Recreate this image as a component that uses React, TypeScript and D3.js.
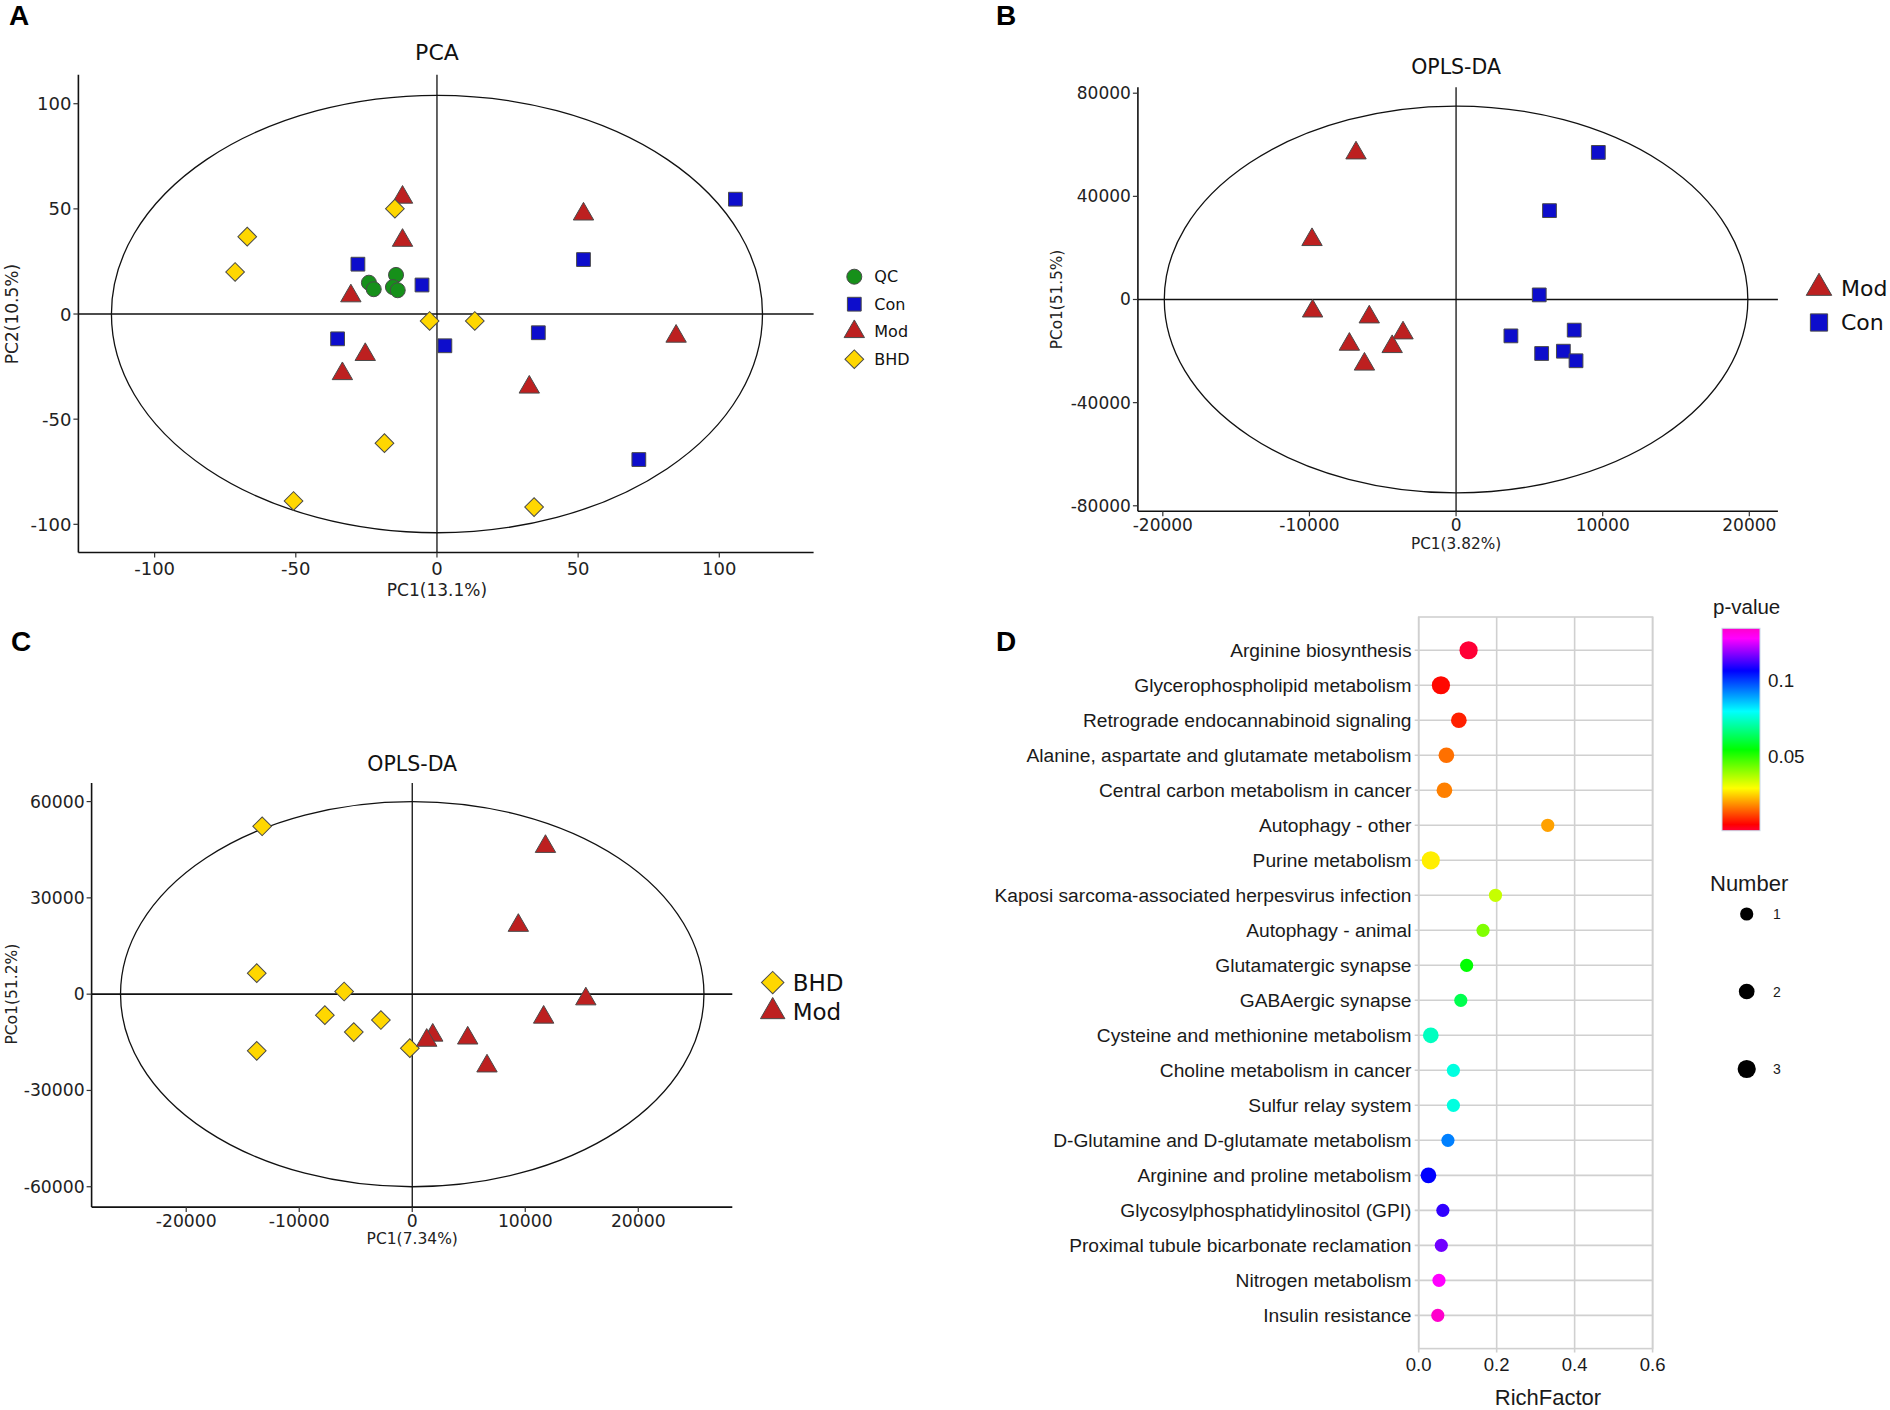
import React from "react";
import * as d3 from "d3";

const W = 1890;
const H = 1410;

// ---------- A: PCA scores ----------
const pcaQC = [[-24.1, 14.9], [-22.4, 11.8], [-14.5, 18.6], [-15.6, 12.8], [-13.9, 11.3]];
const pcaCon = [[105.7, 54.6], [51.9, 25.9], [-28.0, 23.7], [-5.3, 13.8], [-35.2, -11.8], [2.8, -15.1], [35.9, -8.9], [71.5, -69.2]];
const pcaMod = [[-12.2, 55.5], [-12.2, 35.0], [51.9, 47.5], [-30.5, 8.6], [84.7, -10.6], [-25.4, -19.3], [-33.5, -28.4], [32.7, -34.8]];
const pcaBHD = [[-67.2, 36.8], [-71.5, 20.0], [-14.9, 50.1], [-2.6, -3.3], [13.4, -3.3], [-18.6, -61.4], [-50.8, -88.9], [34.4, -91.8]];
const pcaTicks = [-100, -50, 0, 50, 100];

// ---------- B: OPLS-DA Mod vs Con ----------
const bMod = [[-6824, 56800], [-9825, 23200], [-9784, -4500], [-5920, -6800], [-3618, -13000], [-7277, -17400], [-4358, -18300], [-6249, -25100]];
const bCon = [[9702, 57040], [6372, 34460], [5673, 1782], [3741, -14110], [8058, -11883], [5838, -20944], [7318, -20053], [8181, -23766]];
const bXTicks = [-20000, -10000, 0, 10000, 20000];
const bYTicks = [-80000, -40000, 0, 40000, 80000];

// ---------- C: OPLS-DA BHD vs Mod ----------
const cBHD = [[-13280, 52295], [-13760, 6537], [-6027, 834], [-7733, -6537], [-5173, -11822], [-2773, -8067], [-13760, -17663], [-213, -16829]];
const cMod = [[11787, 46000], [9387, 21400], [15360, -1500], [11627, -7200], [1813, -12800], [1280, -14400], [4907, -13700], [6613, -22400]];
const cXTicks = [-20000, -10000, 0, 10000, 20000];
const cYTicks = [-60000, -30000, 0, 30000, 60000];

// ---------- D: KEGG enrichment ----------
const pathways = [
  "Arginine biosynthesis",
  "Glycerophospholipid metabolism",
  "Retrograde endocannabinoid signaling",
  "Alanine, aspartate and glutamate metabolism",
  "Central carbon metabolism in cancer",
  "Autophagy - other",
  "Purine metabolism",
  "Kaposi sarcoma-associated herpesvirus infection",
  "Autophagy - animal",
  "Glutamatergic synapse",
  "GABAergic synapse",
  "Cysteine and methionine metabolism",
  "Choline metabolism in cancer",
  "Sulfur relay system",
  "D-Glutamine and D-glutamate metabolism",
  "Arginine and proline metabolism",
  "Glycosylphosphatidylinositol (GPI)",
  "Proximal tubule bicarbonate reclamation",
  "Nitrogen metabolism",
  "Insulin resistance",
];
const richFactor = [0.128, 0.057, 0.103, 0.071, 0.066, 0.331, 0.031, 0.197, 0.165, 0.123, 0.108, 0.031, 0.089, 0.089, 0.075, 0.025, 0.062, 0.058, 0.052, 0.049];
const pValue = [0.0013, 0.006, 0.0083, 0.0158, 0.0173, 0.0204, 0.0277, 0.0349, 0.0419, 0.0546, 0.0624, 0.0736, 0.0768, 0.0768, 0.0932, 0.1065, 0.1105, 0.1159, 0.1278, 0.1345];
const hitNumber = [3, 3, 2, 2, 2, 1, 3, 1, 1, 1, 1, 2, 1, 1, 1, 2, 1, 1, 1, 1];
const richTicks = [0, 0.2, 0.4, 0.6];
const pLabels = [0.05, 0.1];
const numberLegend = [1, 2, 3];

const groupStyle: Record<string, { shape: string; fill: string }> = {
  QC: { shape: "circle", fill: "#16901a" },
  Con: { shape: "square", fill: "#0d0dcc" },
  Mod: { shape: "triangle", fill: "#bd2020" },
  BHD: { shape: "diamond", fill: "#ffd700" },
};

const SANS = "DejaVu Sans";
const ARIAL = "Liberation Sans, Arial";

function markerPath(shape: string, size: number) {
  const t =
    shape === "circle" ? d3.symbolCircle : shape === "triangle" ? d3.symbolTriangle : d3.symbolSquare;
  return d3.symbol().type(t).size(size)() as string;
}

const markerSize: Record<string, number> = { circle: 177, square: 190, triangle: 180, diamond: 175 };

function Marker({ x, y, group, scale = 1 }: { x: number; y: number; group: string; scale?: number }) {
  const st = groupStyle[group];
  const rot = st.shape === "diamond" ? 45 : 0;
  return (
    <path
      d={markerPath(st.shape, markerSize[st.shape] * scale * scale)}
      transform={`translate(${x},${y}) rotate(${rot})`}
      fill={st.fill}
      stroke="#4a4a4a"
      strokeWidth={1}
    />
  );
}

type Series = { name: string; pts: number[][] };

function ScatterPanel(p: {
  xRange: [number, number];
  yRange: [number, number];
  xDomain: [number, number];
  yDomain: [number, number];
  xTicks: number[];
  yTicks: number[];
  series: Series[];
  ellipse: [number, number];
  title: string;
  titleY: number;
  titleSize: number;
  xLabel: string;
  xLabelY: number;
  yLabel: string;
  yLabelX: number;
  labelSize: number;
  tickSize: number;
  xTickY: number;
  legend: { x: number; y: number; dy: number; size: number; gap: number; scale: number; names: string[] };
}) {
  const xs = d3.scaleLinear().domain(p.xDomain).range(p.xRange);
  const ys = d3.scaleLinear().domain(p.yDomain).range(p.yRange);
  const [x0, x1] = p.xRange;
  const [yb, yt] = p.yRange;
  return (
    <g fontFamily={SANS}>
      <text x={xs(0)} y={p.titleY} textAnchor="middle" dominantBaseline="central" fontSize={p.titleSize} fill="#111">
        {p.title}
      </text>
      {/* zero lines */}
      <line x1={x0} x2={x1} y1={ys(0)} y2={ys(0)} stroke="#111" strokeWidth={1.6} />
      <line x1={xs(0)} x2={xs(0)} y1={yt} y2={yb} stroke="#111" strokeWidth={1.3} />
      <ellipse
        cx={xs(0)}
        cy={ys(0)}
        rx={xs(p.ellipse[0]) - xs(0)}
        ry={ys(0) - ys(p.ellipse[1])}
        fill="none"
        stroke="#111"
        strokeWidth={1.3}
      />
      {/* axes */}
      <line x1={x0} x2={x1} y1={yb} y2={yb} stroke="#111" strokeWidth={1.6} />
      <line x1={x0} x2={x0} y1={yt} y2={yb} stroke="#111" strokeWidth={1.6} />
      {p.xTicks.map((t) => (
        <g key={"x" + t}>
          <line x1={xs(t)} x2={xs(t)} y1={yb} y2={yb + 5} stroke="#333" strokeWidth={1.2} />
          <text x={xs(t)} y={p.xTickY} textAnchor="middle" dominantBaseline="central" fontSize={p.tickSize} fill="#222">
            {t}
          </text>
        </g>
      ))}
      {p.yTicks.map((t) => (
        <g key={"y" + t}>
          <line x1={x0 - 5} x2={x0} y1={ys(t)} y2={ys(t)} stroke="#333" strokeWidth={1.2} />
          <text x={x0 - 7} y={ys(t)} textAnchor="end" dominantBaseline="central" fontSize={p.tickSize} fill="#222">
            {t}
          </text>
        </g>
      ))}
      <text x={xs(0)} y={p.xLabelY} textAnchor="middle" dominantBaseline="central" fontSize={p.labelSize} fill="#222">
        {p.xLabel}
      </text>
      <text
        transform={`translate(${p.yLabelX},${ys(0)}) rotate(-90)`}
        textAnchor="middle"
        dominantBaseline="central"
        fontSize={p.labelSize}
        fill="#222"
      >
        {p.yLabel}
      </text>
      {p.series.map((s) =>
        s.pts.map((d, i) => <Marker key={s.name + i} x={xs(d[0])} y={ys(d[1])} group={s.name} />)
      )}
      {p.legend.names.map((n, i) => (
        <g key={"lg" + n}>
          <Marker x={p.legend.x} y={p.legend.y + i * p.legend.dy} group={n} scale={p.legend.scale} />
          <text
            x={p.legend.x + p.legend.gap}
            y={p.legend.y + i * p.legend.dy}
            dominantBaseline="central"
            fontSize={p.legend.size}
            fill="#111"
          >
            {n}
          </text>
        </g>
      ))}
    </g>
  );
}

function EnrichPanel() {
  const xs = d3.scaleLinear().domain([0, 0.6]).range([1418.7, 1652.6]);
  const ys = d3.scalePoint<string>().domain(pathways).range([617, 1348.6]).padding(0.95);
  const pMin = 0.0013;
  const pMax = 0.1345;
  const stopF = [0, 0.03, 0.21, 0.4, 0.59, 0.79, 0.95, 1];
  const stopC = ["#ff0036", "#ff0000", "#ffff00", "#00ff00", "#00ffff", "#0000ff", "#ff00ff", "#ff00cc"];
  const color = d3
    .scaleLinear<string>()
    .domain(stopF.map((f) => pMin + f * (pMax - pMin)))
    .range(stopC)
    .interpolate(d3.interpolateRgb);
  const rScale = d3.scaleLinear().domain([1, 3]).range([6.6, 9.1]);
  const barTop = 628.3;
  const barBot = 830.7;
  const barY = d3.scaleLinear().domain([pMin, pMax]).range([barBot, barTop]);
  const [px0, px1] = xs.range();
  const grid = "#d0d0d0";
  return (
    <g fontFamily={ARIAL}>
      <defs>
        <linearGradient id="pgrad" x1="0" y1="1" x2="0" y2="0">
          {stopF.map((f, i) => (
            <stop key={i} offset={f} stopColor={stopC[i]} />
          ))}
        </linearGradient>
      </defs>
      {pathways.map((pw) => (
        <line key={"g" + pw} x1={px0 - 4} x2={px1} y1={ys(pw)} y2={ys(pw)} stroke={grid} strokeWidth={1.6} />
      ))}
      {richTicks.map((t) => (
        <line key={"v" + t} x1={xs(t)} x2={xs(t)} y1={617} y2={1352.6} stroke={grid} strokeWidth={1.6} />
      ))}
      <rect x={px0} y={617} width={px1 - px0} height={1348.6 - 617} fill="none" stroke={grid} strokeWidth={1.6} />
      {pathways.map((pw, i) => (
        <circle key={"c" + pw} cx={xs(richFactor[i])} cy={ys(pw)} r={rScale(hitNumber[i])} fill={color(pValue[i])} />
      ))}
      {pathways.map((pw) => (
        <text key={"t" + pw} x={1411.5} y={ys(pw)} textAnchor="end" dominantBaseline="central" fontSize={19.2} fill="#1a1a1a">
          {pw}
        </text>
      ))}
      {richTicks.map((t) => (
        <text key={"xt" + t} x={xs(t)} y={1364} textAnchor="middle" dominantBaseline="central" fontSize={18.5} fill="#1a1a1a">
          {t.toFixed(1)}
        </text>
      ))}
      <text x={1548} y={1397} textAnchor="middle" dominantBaseline="central" fontSize={22} fill="#1a1a1a">
        RichFactor
      </text>
      {/* colour legend */}
      <text x={1713} y={606.7} dominantBaseline="central" fontSize={20.5} fill="#1a1a1a">
        p-value
      </text>
      <rect x={1722} y={barTop} width={38} height={barBot - barTop} fill="url(#pgrad)" stroke="#c8d8e8" strokeWidth={1} />
      {pLabels.map((v) => (
        <text key={"pl" + v} x={1768} y={barY(v)} dominantBaseline="central" fontSize={18.8} fill="#1a1a1a">
          {v}
        </text>
      ))}
      {/* size legend */}
      <text x={1710} y={883} dominantBaseline="central" fontSize={22} fill="#1a1a1a">
        Number
      </text>
      {numberLegend.map((n, i) => (
        <g key={"n" + n}>
          <circle cx={1746.7} cy={914 + i * 77.5} r={rScale(n)} fill="#000" />
          <text x={1773} y={914 + i * 77.5} dominantBaseline="central" fontSize={14} fill="#1a1a1a">
            {n}
          </text>
        </g>
      ))}
    </g>
  );
}

export default function App() {
  const letter = { fontFamily: ARIAL, fontWeight: 700, fontSize: 28, fill: "#000" } as const;
  return (
    <svg
      width={W}
      height={H}
      viewBox={`0 0 ${W} ${H}`}
      style={{ position: "absolute", left: 0, top: 0, background: "#fff" }}
    >
      <rect width={W} height={H} fill="#fff" />
      <text x={9} y={25} {...letter}>A</text>
      <text x={996} y={25} {...letter}>B</text>
      <text x={11} y={651} {...letter}>C</text>
      <text x={996} y={651} {...letter}>D</text>

      <ScatterPanel
        xRange={[78.4, 813.6]}
        yRange={[552.5, 74.7]}
        xDomain={[-127, 133.4]}
        yDomain={[-113.4, 113.8]}
        xTicks={pcaTicks}
        yTicks={pcaTicks}
        series={[
          { name: "QC", pts: pcaQC },
          { name: "Con", pts: pcaCon },
          { name: "Mod", pts: pcaMod },
          { name: "BHD", pts: pcaBHD },
        ]}
        ellipse={[115.3, 104]}
        title="PCA"
        titleY={52}
        titleSize={22}
        xLabel="PC1(13.1%)"
        xLabelY={590}
        yLabel="PC2(10.5%)"
        yLabelX={12}
        labelSize={17}
        tickSize={18}
        xTickY={568.8}
        legend={{ x: 854.3, y: 276.7, dy: 27.5, size: 16, gap: 20, scale: 1, names: ["QC", "Con", "Mod", "BHD"] }}
      />

      <ScatterPanel
        xRange={[1137.9, 1777.9]}
        yRange={[511.3, 87.3]}
        xDomain={[-21700, 21950]}
        yDomain={[-82140, 82290]}
        xTicks={bXTicks}
        yTicks={bYTicks}
        series={[
          { name: "Mod", pts: bMod },
          { name: "Con", pts: bCon },
        ]}
        ellipse={[19900, 75000]}
        title="OPLS-DA"
        titleY={67}
        titleSize={20.5}
        xLabel="PC1(3.82%)"
        xLabelY={544}
        yLabel="PCo1(51.5%)"
        yLabelX={1056.5}
        labelSize={15.3}
        tickSize={17}
        xTickY={524.7}
        legend={{ x: 1819, y: 288, dy: 34.5, size: 22, gap: 22, scale: 1.25, names: ["Mod", "Con"] }}
      />

      <ScatterPanel
        xRange={[91.6, 732.3]}
        yRange={[1207.1, 783]}
        xDomain={[-28373, 28320]}
        yDomain={[-66342, 65786]}
        xTicks={cXTicks}
        yTicks={cYTicks}
        series={[
          { name: "BHD", pts: cBHD },
          { name: "Mod", pts: cMod },
        ]}
        ellipse={[25813, 60000]}
        title="OPLS-DA"
        titleY={764.3}
        titleSize={20.5}
        xLabel="PC1(7.34%)"
        xLabelY={1239.3}
        yLabel="PCo1(51.2%)"
        yLabelX={12}
        labelSize={15.5}
        tickSize={17.2}
        xTickY={1220.5}
        legend={{ x: 772.7, y: 982.6, dy: 29, size: 23, gap: 20, scale: 1.2, names: ["BHD", "Mod"] }}
      />

      <EnrichPanel />
    </svg>
  );
}
